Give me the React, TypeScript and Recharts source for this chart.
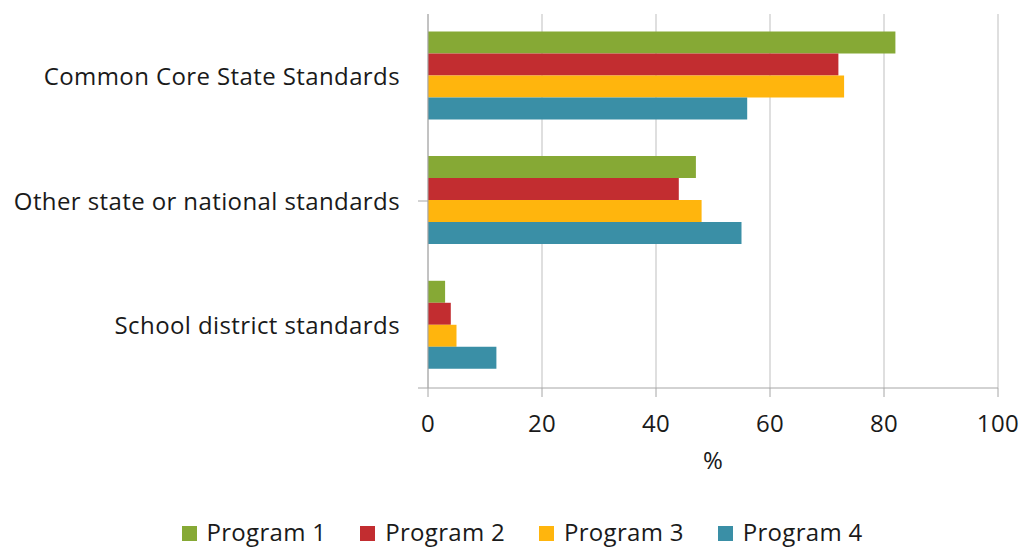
import React from "react";
import {
  BarChart,
  Bar,
  XAxis,
  YAxis,
  CartesianGrid,
  Legend,
} from "recharts";

const categories = [
  "Common Core State Standards",
  "Other state or national standards",
  "School district standards",
];

const program1 = [82, 47, 3];
const program2 = [72, 44, 4];
const program3 = [73, 48, 5];
const program4 = [56, 55, 12];

const xTicks = [0, 20, 40, 60, 80, 100];
const bandTicks = [0, 1, 2, 3];

const series = [
  { key: "p1", name: "Program 1", color: "#86a935" },
  { key: "p2", name: "Program 2", color: "#c22d30" },
  { key: "p3", name: "Program 3", color: "#ffb50d" },
  { key: "p4", name: "Program 4", color: "#3a8fa6" },
];

const data = categories.map((category, i) => ({
  category,
  p1: program1[i],
  p2: program2[i],
  p3: program3[i],
  p4: program4[i],
}));

const FONT = "'Open Sans', sans-serif";
const TEXT = "#1a1a1a";
const AXIS = "#a6a6a6";
const GRID = "#bfbfbf";

const labelStyle = {
  fill: TEXT,
  fontSize: 24,
  fontFamily: FONT,
  letterSpacing: 0.4,
};

function LegendRow() {
  return (
    <div
      style={{
        display: "flex",
        justifyContent: "center",
        alignItems: "flex-start",
        height: 69,
        paddingTop: 42,
        boxSizing: "border-box",
        paddingLeft: 46,
        fontFamily: FONT,
        fontSize: 24,
        lineHeight: "24px",
        letterSpacing: 0.3,
        color: TEXT,
      }}
    >
      {series.map((s) => (
        <div
          key={s.key}
          style={{ display: "flex", alignItems: "flex-start", margin: "0 17px" }}
        >
          <span
            style={{
              width: 15,
              height: 15,
              background: s.color,
              marginTop: 6,
              marginRight: 10,
              display: "inline-block",
            }}
          />
          <span>{s.name}</span>
        </div>
      ))}
    </div>
  );
}

export default function App() {
  return (
    <div>
      <style>{"body{margin:0;background:#fff}"}</style>
      <BarChart
        width={1022}
        height={547}
        data={data}
        layout="vertical"
        margin={{ top: 14, right: 24, left: 0, bottom: 0 }}
        barCategoryGap="14%"
        barGap={0}
      >
        <CartesianGrid
          horizontal={false}
          vertical
          stroke={GRID}
          strokeWidth={1}
        />
        <XAxis
          type="number"
          domain={[0, 100]}
          ticks={xTicks}
          interval={0}
          height={90}
          stroke={AXIS}
          tickSize={9}
          tickMargin={18}
          tick={labelStyle}
          label={{
            value: "%",
            position: "insideBottom",
            offset: 9,
            ...labelStyle,
          }}
        />
        {/* frame axis: only draws the short ticks between the categories */}
        <YAxis
          yAxisId="band"
          type="number"
          domain={[0, 3]}
          ticks={bandTicks}
          width={1}
          tick={() => <g />}
          tickSize={10}
          stroke={AXIS}
          reversed
        />
        <YAxis
          yAxisId="cat"
          type="category"
          dataKey="category"
          width={427}
          axisLine={false}
          tickLine={false}
          tickSize={6}
          tickMargin={21}
          tick={labelStyle}
        />
        <Legend verticalAlign="bottom" content={() => <LegendRow />} />
        {series.map((s) => (
          <Bar
            key={s.key}
            yAxisId="cat"
            dataKey={s.key}
            name={s.name}
            fill={s.color}
            isAnimationActive={false}
          />
        ))}
      </BarChart>
    </div>
  );
}
